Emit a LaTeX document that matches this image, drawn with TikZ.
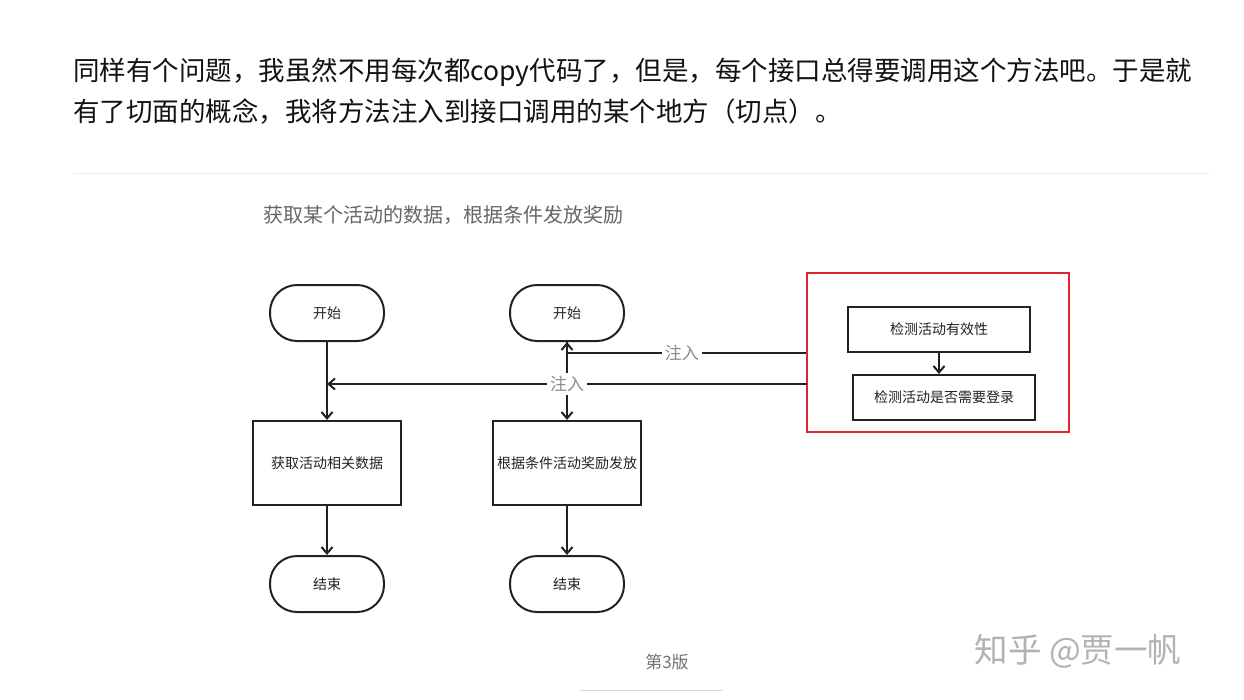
\documentclass[tikz,border=0pt]{standalone}
\usepackage{fontspec}
\setmainfont{Noto Sans CJK SC}
\usetikzlibrary{arrows.meta}
\definecolor{ink}{HTML}{222222}
\definecolor{body}{HTML}{121212}
\definecolor{redbox}{HTML}{E0252B}
\begin{document}
\begin{tikzpicture}[x=1pt,y=-1pt,
  term/.style={draw=ink, line width=2pt, rounded corners=27pt, minimum width=114pt, minimum height=56pt, inner sep=0pt, font=\fontsize{14}{16}\selectfont, text=ink},
  proc/.style={draw=ink, line width=2pt, minimum width=148pt, minimum height=84pt, inner sep=0pt, font=\fontsize{14}{16}\selectfont, text=ink},
  chk/.style={draw=ink, line width=2pt, minimum width=182pt, minimum height=45pt, inner sep=0pt, font=\fontsize{14}{16}\selectfont, text=ink},
  flow/.style={-{Straight Barb[length=6.5pt,width=11pt,line width=2pt]}, line width=2pt, draw=ink},
  lab/.style={fill=white, text=black!45, font=\fontsize{17}{17}\selectfont, inner sep=3pt}
]
\useasboundingbox (0,0) rectangle (1244,699);
\fill[white] (0,0) rectangle (1244,699);

% paragraph
\node[anchor=west, inner sep=0pt, text=body, font=\fontsize{26.5}{30}\selectfont] (p1) at (73,72) {同样有个问题，我虽然不用每次都copy代码了，但是，每个接口总得要调用这个方法吧。于是就};
\node[anchor=west, inner sep=0pt, text=body, font=\fontsize{26.5}{30}\selectfont] (p2) at (73,112) {有了切面的概念，我将方法注入到接口调用的某个地方（切点）。};
\draw[black!8, line width=1pt] (73,173) -- (1210,173);

% title
\node[anchor=west, inner sep=0pt, text=black!60, font=\fontsize{20}{22}\selectfont] (title) at (263,215) {获取某个活动的数据，根据条件发放奖励};

% left column
\node[term] (s1) at (327,313) {开始};
\node[proc] (b1) at (327,463) {获取活动相关数据};
\node[term] (e1) at (327,584) {结束};
% right column
\node[term] (s2) at (567,313) {开始};
\node[proc] (b2) at (567,463) {根据条件活动奖励发放};
\node[term] (e2) at (567,584) {结束};

% red aspect box
\node[draw=redbox, line width=1.6pt, minimum width=262pt, minimum height=159pt, inner sep=0pt] (red) at (938,352.5) {};
\node[chk] (c1) at (939,329.5) {检测活动有效性};
\node[chk] (c2) at (944,397.5) {检测活动是否需要登录};
\draw[flow] (c1) -- (c1 |- c2.north);

% flows
\draw[flow] (s1) -- (b1);
\draw[flow] (b1) -- (e1);
\draw[flow] (s2) -- (b2);
\draw[flow] (b2) -- (e2);

% injections
\draw[flow] (red.west) -- node[lab, pos=0.52] (inj1) {注入} (s2.south |- red.west) -- (s2.south);
\coordinate (r2) at (807,384);
\draw[flow] (r2) -- (s1.south |- r2);
\node[lab] (inj2) at (567,384) {注入};

% caption
\node[text=black!55, font=\fontsize{17}{19}\selectfont, inner sep=0pt] (cap) at (667,662) {第3版};
\draw[black!15, line width=1pt] (580,690) -- (723,690);

% watermark
\node[text=black!30, font=\fontsize{33.5}{35}\selectfont, inner sep=0pt] (wm) at (1078,651) {知乎 @贾一帆};
\end{tikzpicture}
\end{document}
